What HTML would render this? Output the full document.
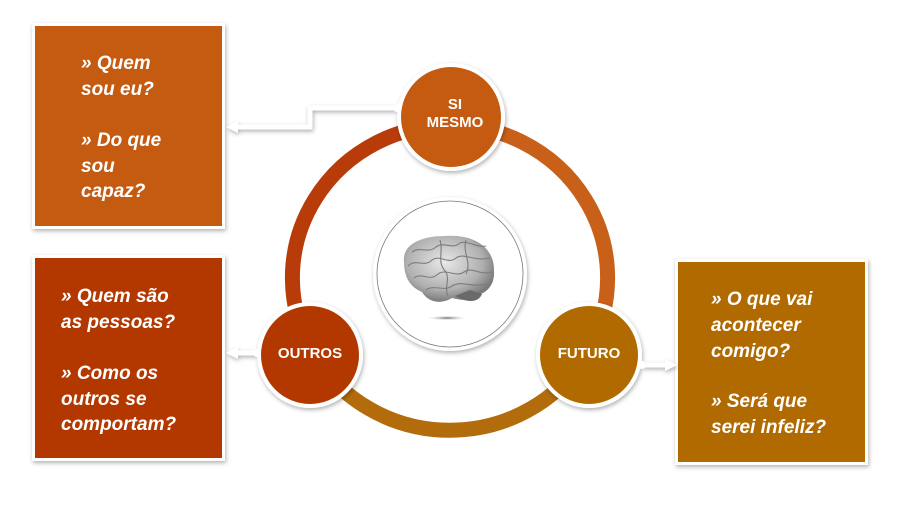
<!DOCTYPE html>
<html><head><meta charset="utf-8"><style>
html,body{margin:0;padding:0;background:#fff;}
svg{display:block;}
text{font-family:"Liberation Sans",Arial,sans-serif;}
</style></head><body>
<svg width="900" height="520" viewBox="0 0 900 520" xmlns="http://www.w3.org/2000/svg">
<defs>
<filter id="sh" x="-20%" y="-20%" width="140%" height="140%"><feDropShadow dx="1" dy="2" stdDeviation="2" flood-color="#000" flood-opacity="0.3"/></filter>
<radialGradient id="br" cx="45%" cy="40%" r="60%"><stop offset="0" stop-color="#e8e8e8"/><stop offset="0.7" stop-color="#b0b0b0"/><stop offset="1" stop-color="#7a7a7a"/></radialGradient>
<radialGradient id="shd" cx="50%" cy="50%" r="50%"><stop offset="0" stop-color="#666"/><stop offset="1" stop-color="#fff" stop-opacity="0"/></radialGradient>
</defs>
<!-- boxes -->
<rect x="32" y="23" width="193" height="206" fill="#fff" filter="url(#sh)"/>
<rect x="35" y="26" width="187" height="200" fill="#c55a11"/>
<rect x="32" y="255" width="193" height="206" fill="#fff" filter="url(#sh)"/>
<rect x="35" y="258" width="187" height="200" fill="#b33800"/>
<rect x="675" y="259" width="193" height="206" fill="#fff" filter="url(#sh)"/>
<rect x="678" y="262" width="187" height="200" fill="#b06a00"/>
<g fill="#fff" font-size="19" font-weight="bold" font-style="italic">
<text x="81" y="69">» Quem</text><text x="81" y="95">sou eu?</text>
<text x="81" y="146">» Do que</text><text x="81" y="172">sou</text><text x="81" y="197">capaz?</text>
<text x="61" y="302">» Quem são</text><text x="61" y="328">as pessoas?</text>
<text x="61" y="379">» Como os</text><text x="61" y="405">outros se</text><text x="61" y="430">comportam?</text>
<text x="711" y="305">» O que vai</text><text x="711" y="331">acontecer</text><text x="711" y="357">comigo?</text>
<text x="711" y="407">» Será que</text><text x="711" y="433">serei infeliz?</text>
</g>
<!-- ring -->
<g fill="none" stroke-width="15">
<path d="M450 125 A158 153 0 0 1 589 350" stroke="#c8601a"/>
<path d="M450 125 A158 153 0 0 0 311 350" stroke="#b83c0a"/>
<path d="M311 350 A158 153 0 0 0 589 350" stroke="#b36c0c"/>
</g>
<!-- connectors -->
<g fill="none" stroke-linejoin="miter" filter="url(#sh)">
<path d="M397 108 H310 V127 H232" stroke="#fff" stroke-width="5"/>
<path d="M257 353 H232" stroke="#fff" stroke-width="5"/>
<path d="M642 365 H671" stroke="#fff" stroke-width="5"/>
<polygon points="226,127 238,121 238,133" fill="#fff"/>
<polygon points="226,353 238,347 238,359" fill="#fff"/>
<polygon points="677,365 665,359 665,371" fill="#fff"/>
</g>
<!-- center circle -->
<circle cx="450" cy="274" r="77" fill="#fff" filter="url(#sh)"/>
<circle cx="450" cy="274" r="73" fill="#fff" stroke="#777" stroke-width="0.8"/>
<g>
<path d="M404 262 C402 245 420 236 445 236 C472 234 494 246 494 270 C495 284 488 292 478 295 C470 302 460 300 452 298 C440 305 428 302 422 292 C410 287 404 277 404 262 Z" fill="url(#br)"/>
<path d="M455 296 C465 302 478 304 482 294 L470 290 Z" fill="#6a6a6a"/>
<ellipse cx="447" cy="318" rx="22" ry="2.5" fill="url(#shd)"/>
<g fill="none" stroke="#7c7c7c" stroke-width="1.1">
<path d="M412 252 C420 246 428 254 436 247 C444 241 452 250 460 243 C468 240 476 248 486 246"/>
<path d="M408 266 C416 258 424 268 432 260 C440 254 448 265 456 258 C464 252 474 262 490 258"/>
<path d="M414 278 C422 272 430 282 438 274 C446 268 456 278 464 272 C472 266 480 276 492 272"/>
<path d="M426 290 C434 284 444 292 452 286 C462 280 470 288 486 284"/>
<path d="M440 240 C444 252 436 262 446 272 C450 280 444 288 448 296"/>
<path d="M466 240 C462 252 472 262 466 274"/>
</g>
</g>
<!-- nodes -->
<g filter="url(#sh)">
<circle cx="451" cy="117" r="54" fill="#fff"/>
<circle cx="310" cy="355" r="53" fill="#fff"/>
<circle cx="589" cy="355" r="53" fill="#fff"/>
</g>
<circle cx="451" cy="117" r="50" fill="#c55a11"/>
<circle cx="310" cy="355" r="49" fill="#b33800"/>
<circle cx="589" cy="355" r="49" fill="#b06a00"/>
<circle cx="397" cy="108" r="4" fill="#fff"/>
<circle cx="257" cy="353" r="4" fill="#fff"/>
<circle cx="642" cy="365" r="4" fill="#fff"/>
<g fill="#fff" font-size="15" font-weight="bold" text-anchor="middle">
<text x="455" y="109">SI</text><text x="455" y="127">MESMO</text>
<text x="310" y="358">OUTROS</text>
<text x="589" y="358">FUTURO</text>
</g>
</svg>
</body></html>
